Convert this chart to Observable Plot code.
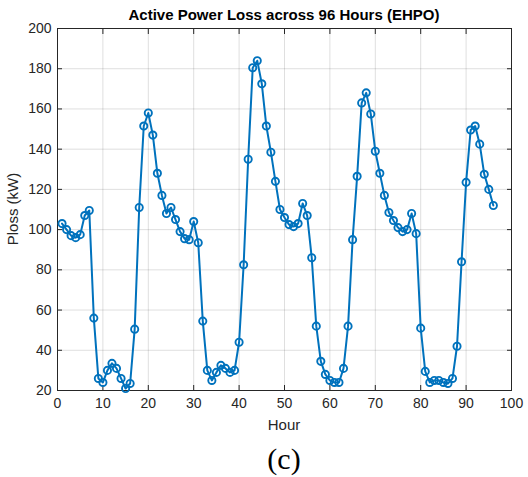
<!DOCTYPE html>
<html><head><meta charset="utf-8">
<script src="https://cdn.jsdelivr.net/npm/d3@7"></script>
<script src="https://cdn.jsdelivr.net/npm/@observablehq/plot@0.6"></script>
<style>
body{margin:0;background:#fff;}
#wrap{position:relative;width:528px;height:477px;font-family:"Liberation Sans",Arial,sans-serif;}
#title{position:absolute;left:57px;width:454px;top:6px;text-align:center;font-weight:bold;font-size:15px;line-height:18px;color:#000;}
#xlab{position:absolute;left:57px;width:454px;top:416px;text-align:center;font-size:15px;line-height:18px;color:#262626;}
#ylab{position:absolute;left:13px;top:209px;transform:translate(-50%,-50%) rotate(-90deg);white-space:nowrap;font-size:15px;line-height:18px;color:#262626;}
#cap{position:absolute;left:57px;width:454px;top:442px;text-align:center;font-family:"Liberation Serif","Times New Roman",serif;font-size:30px;line-height:34px;color:#000;}
</style></head>
<body><div id="wrap"><div id="chart"></div>
<div id="title">Active Power Loss across 96 Hours (EHPO)</div>
<div id="xlab">Hour</div>
<div id="ylab">Ploss (kW)</div>
<div id="cap">(c)</div></div>
<script>
const hours = d3.range(1, 97);
const ploss = [103,100,97,96,97.5,107,109.5,56,26,24,30,33.5,31,26,21,23.5,50.5,111,151.5,158,
147,128,117,108,111,105,99,95.5,95,104,93.5,54.5,30,25,29,32.5,31,29,30,44,
82.5,135,180.5,184,172.5,151.5,138.5,124,110,106,102.5,101.5,103,113,107,86,52,34.5,28,25,
24,24,31,52,95,126.5,163,168,157.5,139,128,117,108.5,104.5,101,99,100,108,98,51,
29.5,24,25,25,24,23.5,26,42,84,123.5,149.5,151.5,142.5,127.5,120,112];
const xTicks = [0,10,20,30,40,50,60,70,80,90,100];
const yTicks = [20,40,60,80,100,120,140,160,180,200];
const data = hours.map((h,i)=>({hour:h, ploss:ploss[i]}));
const blue = "#0072BD";
const none = () => "";
const plot = Plot.plot({
  width: 528, height: 440,
  marginTop: 28, marginLeft: 57, marginRight: 17, marginBottom: 50,
  style: {fontFamily: '"Liberation Sans", Arial, sans-serif', fontSize: "14px", color: "#262626", background: "#fff"},
  x: {domain: [0,100]},
  y: {domain: [20,200]},
  marks: [
    Plot.gridX(xTicks, {stroke: "#262626", strokeOpacity: 0.15}),
    Plot.gridY(yTicks, {stroke: "#262626", strokeOpacity: 0.15}),
    Plot.axisX(xTicks, {tickSize: -5, tickPadding: 13, label: null, stroke: "#262626"}),
    Plot.axisX(xTicks, {anchor: "top", tickSize: -5, tickFormat: none, label: null, stroke: "#262626"}),
    Plot.axisY(yTicks, {tickSize: -5, tickPadding: 11, label: null, stroke: "#262626"}),
    Plot.axisY(yTicks, {anchor: "right", tickSize: -5, tickFormat: none, label: null, stroke: "#262626"}),
    Plot.frame({stroke: "#262626", strokeWidth: 1}),
    Plot.line(data, {x: "hour", y: "ploss", stroke: blue, strokeWidth: 2}),
    Plot.dot(data, {x: "hour", y: "ploss", r: 3.6, stroke: blue, strokeWidth: 1.9, fill: "none"})
  ]
});
document.getElementById("chart").appendChild(plot);
</script></body></html>
